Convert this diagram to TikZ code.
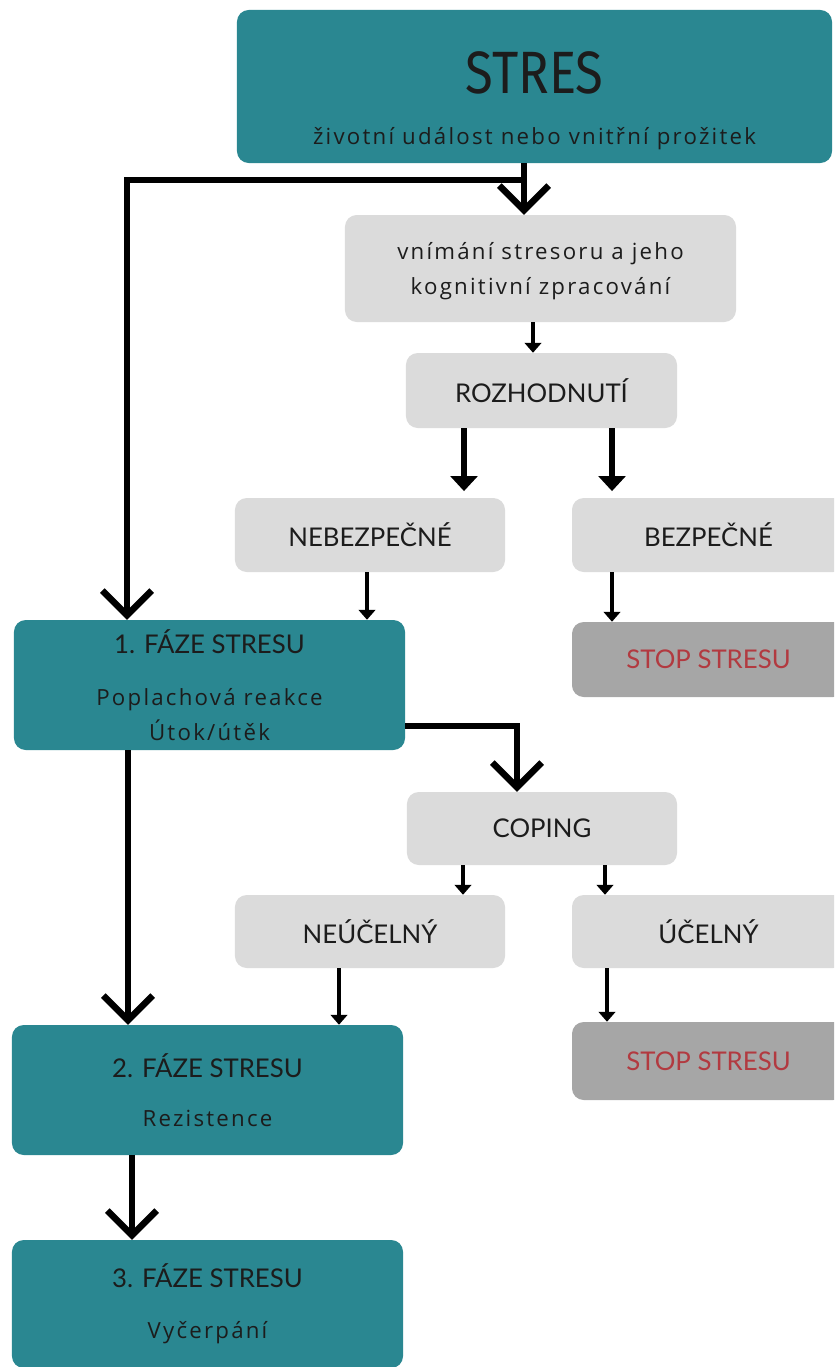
\documentclass[tikz,border=0pt]{standalone}
\usepackage{fontspec}
\setmainfont{Lato}
\newfontfamily\bodyfont[LetterSpace=10]{Open Sans}
\newfontfamily\bigfont[FakeStretch=0.85]{Fira Sans}
\usetikzlibrary{arrows.meta}
\definecolor{phaseteal}{HTML}{2A8791}
\definecolor{boxgrey}{HTML}{DBDBDB}
\definecolor{stopgrey}{HTML}{A6A6A6}
\definecolor{stopred}{HTML}{B23A40}
\definecolor{ink}{HTML}{1C1C1C}
\newcommand{\headfont}{\rmfamily\fontsize{22}{26}\selectfont}
\newcommand{\subfont}{\bodyfont\fontsize{19}{29.5}\selectfont}

\begin{document}
\begin{tikzpicture}[x=0.03cm,y=-0.03cm]

    \tikzset{
      phase/.style={
        fill=phaseteal,
        rounded corners=10pt,
        text=ink,
        align=center,
        inner sep=0pt,
        minimum width=11.73cm,
        minimum height=3.9cm,
        font=\subfont,
      },
      greybox/.style={
        fill=boxgrey,
        rounded corners=10pt,
        text=ink,
        align=center,
        inner sep=0pt,
        minimum width=8.1cm,
        minimum height=2.22cm,
        font=\headfont,
      },
      stopbox/.style={greybox, fill=stopgrey, text=stopred},
      chevron/.style={line width=5.5pt, -{Straight Barb[length=0.74cm,width=1.48cm]}},
      fatarrow/.style={line width=5.5pt, shorten >=0.2cm, -{Triangle[length=0.45cm,width=0.8cm]}},
      thinarrow/.style={line width=2.6pt, -{Triangle[length=0.3cm,width=0.5cm]}},
    }

	\clip (0,0) rectangle (834,1367);

	% boxes
	\node[phase, minimum width=17.85cm, minimum height=4.59cm] (stres) at (534.5,86.5)
	  {{\bigfont\fontsize{51}{53}\selectfont\rule{0pt}{60pt}STRES}\\[14.5pt]životní událost nebo vnitřní prožitek};
	\node[greybox, minimum width=11.73cm, minimum height=3.21cm, font=\subfont] (vnim) at (540.5,268.5)
	  {\rule{0pt}{19pt}vnímání stresoru a jeho\\kognitivní zpracování};
	\node[greybox, minimum width=8.13cm, minimum height=2.25cm] (rozh) at (541.5,390.5) {ROZHODNUTÍ};
	\node[greybox] (nebez) at (370,535) {NEBEZPEČNÉ};
	\node[greybox, minimum width=8.19cm] (bezp) at (708.5,535) {BEZPEČNÉ};
	\node[stopbox, minimum width=8.19cm, minimum height=2.25cm] (stopA) at (708.5,659.5) {STOP STRESU};
	\node[phase] (faze1) at (209.5,685)
	  {{\headfont 1. FÁZE STRESU}\\[15pt]Poplachová reakce\\Útok/útěk};
	\node[greybox, minimum height=2.19cm] (coping) at (542,828.5) {COPING};
	\node[greybox, minimum height=2.19cm] (neuc) at (370,931.5) {NEÚČELNÝ};
	\node[greybox, minimum width=8.19cm, minimum height=2.19cm] (uc) at (708.5,931.5) {ÚČELNÝ};
	\node[stopbox, minimum width=8.19cm, minimum height=2.34cm] (stopB) at (708.5,1061) {STOP STRESU};
	\node[phase] (faze2) at (207.5,1090)
	  {{\headfont 2. FÁZE STRESU}\\[12pt]Rezistence};
	\node[phase, minimum height=3.84cm] (faze3) at (207.5,1304)
	  {{\headfont 3. FÁZE STRESU}\\[14pt]Vyčerpání};

	% where the arrows run
	\coordinate (split) at (524,180);
	\coordinate (rail) at (127,180);
	\coordinate (knee) at (517,726);
	\coordinate (colA) at (533,0);
	\coordinate (colB) at (464,0);
	\coordinate (colC) at (612,0);
	\coordinate (colD) at (367,0);
	\coordinate (colF) at (463,0);
	\coordinate (colG) at (605,0);
	\coordinate (colH) at (339,0);
	\coordinate (colI) at (607,0);
	\coordinate (colJ) at (128,0);
	\coordinate (colK) at (132,0);

	% arrows
	\draw[line width=5.5pt] (stres.south -| split) -- (split);
	\draw[chevron] (split) -- (vnim.north -| split);
	\draw[chevron] (split) -- (rail) -- (rail |- faze1.north);
	\draw[thinarrow] (vnim.south -| colA) -- (rozh.north -| colA);
	\draw[fatarrow] (rozh.south -| colB) -- (nebez.north -| colB);
	\draw[fatarrow] (rozh.south -| colC) -- (bezp.north -| colC);
	\draw[thinarrow] (nebez.south -| colD) -- (faze1.north -| colD);
	\draw[thinarrow] (bezp.south -| colC) -- (stopA.north -| colC);
	\draw[chevron] (faze1.east |- knee) -- (knee) -- (knee |- coping.north);
	\draw[thinarrow] (coping.south -| colF) -- (neuc.north -| colF);
	\draw[thinarrow] (coping.south -| colG) -- (uc.north -| colG);
	\draw[thinarrow] (neuc.south -| colH) -- (faze2.north -| colH);
	\draw[thinarrow, line width=3.6pt] (uc.south -| colI) -- (stopB.north -| colI);
	\draw[chevron] (faze1.south -| colJ) -- (faze2.north -| colJ);
	\draw[chevron] (faze2.south -| colK) -- (faze3.north -| colK);

\end{tikzpicture}
\end{document}
